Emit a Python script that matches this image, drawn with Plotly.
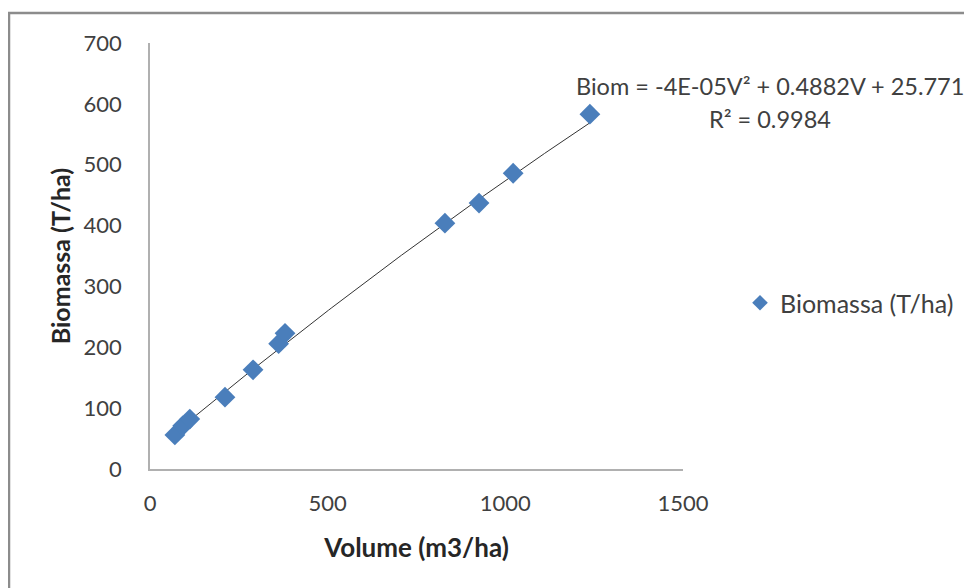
import numpy as np
import plotly.graph_objects as go

# Data
volume = [70, 92, 112, 211, 290, 362, 380, 830, 926, 1022, 1238]
biomass = [56, 71, 82, 118, 163, 206, 223, 404, 437, 486, 583]

# Trendline coefficients as printed on the chart
coef_a = -4e-05
coef_b = 0.4882
coef_c = 25.771
eq_text = "Biom = -4E-05V² + 0.4882V + 25.771"
r2_text = "R² = 0.9984"

x_ticks = [0, 500, 1000, 1500]
y_ticks = [0, 100, 200, 300, 400, 500, 600, 700]

trend_x = np.linspace(min(volume), max(volume), 120)
trend_y = coef_a * trend_x**2 + coef_b * trend_x + coef_c

FONT = "Lato"
TXT = "#404040"
TITLE = "#262626"

fig = go.Figure()
fig.add_trace(go.Scatter(
    x=trend_x, y=trend_y, mode="lines",
    line=dict(color="#333333", width=1),
    showlegend=False, hoverinfo="skip"))
fig.add_trace(go.Scatter(
    x=volume, y=biomass, mode="markers", name="Biomassa (T/ha)",
    marker=dict(symbol="diamond", size=16, color="#4A7EBB",
                line=dict(width=0))))

OFF = 8  # page offset of the figure (browser body margin)
W, H = 972 - OFF, 588 - OFF
PL, PR, PT, PB = 150, 683, 43, 469  # plot area in page pixels
L, T = PL - OFF, PT - OFF
R, B = W - (PR - OFF), H - (PB - OFF)
pw, ph = PR - PL, PB - PT

def px_x(p):
    return (p - PL) / pw

def px_y(p):
    return (PB - p) / ph

fig.update_layout(
    width=W, height=H,
    margin=dict(l=L, r=R, t=T, b=B),
    paper_bgcolor="white", plot_bgcolor="white",
    font=dict(family=FONT, size=22, color=TXT),
    xaxis=dict(range=[0, 1500], tickvals=x_ticks, showgrid=False,
               zeroline=False, showline=True, linecolor="#B0B0B0", linewidth=1.5,
               ticks="", ticklabelstandoff=14, tickfont=dict(size=22),
               title=dict(text="<b>Volume (m3/ha)</b>", standoff=24,
                          font=dict(family=FONT, size=26, color=TITLE))),
    yaxis=dict(range=[0, 700], tickvals=y_ticks, showgrid=False,
               zeroline=False, showline=True, linecolor="#B0B0B0", linewidth=1.5,
               ticks="", ticklabelstandoff=22, tickfont=dict(size=22),
               title=dict(text="<b>Biomassa (T/ha)</b>", standoff=6,
                          font=dict(family=FONT, size=25, color=TITLE))),
    legend=dict(x=px_x(740), y=px_y(303), xanchor="left", yanchor="middle",
                font=dict(family=FONT, size=25, color=TXT),
                bgcolor="rgba(0,0,0,0)", itemsizing="constant", itemwidth=30),
    annotations=[
        dict(text=eq_text, xref="paper", yref="paper", x=px_x(770), y=px_y(86),
             xanchor="center", yanchor="middle", showarrow=False,
             font=dict(family=FONT, size=23.5, color=TXT)),
        dict(text=r2_text, xref="paper", yref="paper", x=px_x(770), y=px_y(119),
             xanchor="center", yanchor="middle", showarrow=False,
             font=dict(family=FONT, size=23.5, color=TXT)),
    ],
    shapes=[
        dict(type="rect", xref="paper", yref="paper",
             x0=px_x(9), x1=px_x(1000), y0=px_y(13), y1=px_y(620),
             line=dict(color="#8C8C8C", width=2.5), fillcolor="rgba(0,0,0,0)",
             layer="below"),
    ],
)

fig.write_html("out.html")
